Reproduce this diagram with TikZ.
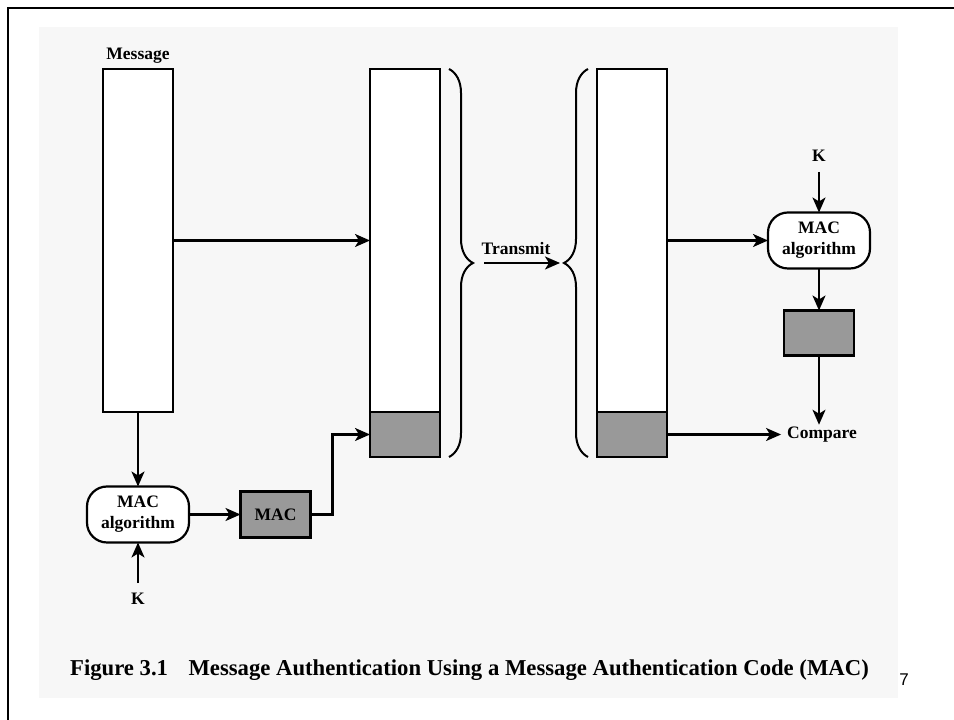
\documentclass[tikz,border=0pt]{standalone}
\usepackage{fontspec}
\setmainfont{Liberation Serif}
\newfontfamily\pagefont{Liberation Sans}
\usetikzlibrary{arrows.meta, decorations.pathreplacing, positioning}
\definecolor{panel}{HTML}{F7F7F7}
\definecolor{macgrey}{HTML}{999999}

\begin{document}
\begin{tikzpicture}[x=1pt, y=1pt, line width=2.2pt,
    lbl/.style={font=\fontsize{17.5}{21}\selectfont\bfseries, inner sep=1pt},
    blk/.style={draw, fill=white, minimum width=70pt, inner sep=0pt, outer sep=0pt, anchor=north west},
    macblk/.style={draw, fill=macgrey, minimum width=70pt, minimum height=45pt, inner sep=0pt, outer sep=0pt},
    alg/.style={draw, fill=white, rounded corners=20pt, minimum width=102pt, minimum height=56pt, inner sep=0pt, outer sep=0pt, align=center, font=\fontsize{17.5}{21}\selectfont\bfseries},
    arr/.style={-{Stealth[length=15pt, width=13pt, inset=4pt]}},
    brc/.style={decorate, decoration={brace, amplitude=24pt}, line width=2pt}]
    \useasboundingbox (0,0) rectangle (954,720);
    \fill[panel] (39,22) rectangle (898,693);
    \draw[line width=2.8pt] (8,0) -- (8,712) -- (954,712);
    \node[blk, minimum height=343pt] (msg) at (103,651) {};
    \node[lbl, above=4pt of msg] (msglbl) {Message};
    \node[blk, minimum height=343pt] (sentmsg) at (370,651) {};
    \node[macblk, anchor=north] (sentmac) at (sentmsg.south) {};
    \node[blk, minimum height=343pt] (recvmsg) at (597,651) {};
    \node[macblk, anchor=north] (recvmac) at (recvmsg.south) {};
    \draw[arr] (msg.east) -- (msg.east -| sentmsg.west);
    \node[alg] (algA) at (138,205.5) {MAC\\algorithm};
    \node[lbl] (kA) at (138,121) {K};
    \node[macblk, lbl, minimum width=70pt, minimum height=46pt] (macA) at (275.5,205.5) {MAC};
    \draw[arr] (msg.south) -- (msg.south |- algA.north);
    \draw[arr, shorten <=8pt] (kA.north) -- (kA.north |- algA.south);
    \draw[arr] (algA.east) -- (algA.east -| macA.west);
    \draw[arr] (macA.east) -- ++(22,0) |- (sentmac.west);
    \draw[brc] (449,651) -- (449,263);
    \draw[brc] (588,263) -- (588,651);
    \coordinate (txfrom) at (484,457);
    \coordinate (txto) at (560,457);
    \draw[arr] (txfrom) -- (txto) node[lbl, midway, above=6pt, xshift=-6pt] (txlbl) {Transmit};
    \node[alg] (algB) at (819,479.5) {MAC\\algorithm};
    \node[lbl] (kB) at (819,564) {K};
    \node[macblk] (macB) at (819,387) {};
    \node[lbl, inner xsep=5pt] (cmp) at (822,285.5) {Compare};
    \draw[arr] (recvmsg.east) -- (recvmsg.east -| algB.west);
    \draw[arr, shorten <=8pt] (kB.south) -- (kB.south |- algB.north);
    \draw[arr] (algB.south) -- (macB.north);
    \draw[arr] (macB.south) -- (macB.south |- cmp.north);
    \draw[arr] (recvmac.east) -- (recvmac.east -| cmp.west);
    \node[font=\fontsize{22.7}{24}\selectfont\bfseries] (caption) at (469.5,50) {Figure 3.1\hspace{0.9em}Message Authentication Using a Message Authentication Code (MAC)};
    \node[font=\pagefont\fontsize{17}{18}\selectfont] (pagenum) at (904,40) {7};
  \end{tikzpicture}
\end{document}
